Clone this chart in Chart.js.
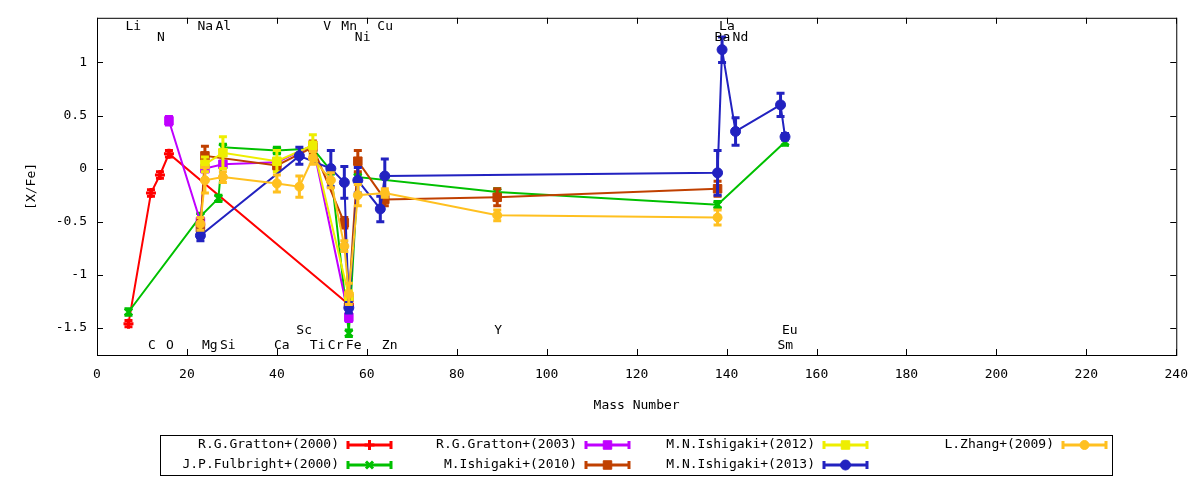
<!DOCTYPE html>
<html>
<head>
<meta charset="utf-8">
<script src="https://cdn.jsdelivr.net/npm/chart.js@4.4.1/dist/chart.umd.min.js"></script>
<style>
  html, body { margin: 0; background: #fff; }
  canvas { display: block; }
</style>
</head>
<body>
<canvas id="abundChart" width="1200" height="480"></canvas>
<script>
// Mass numbers used for each element
const elements = ['Li','C','N','O','Na','Mg','Al','Si','Ca','Sc','Ti','V','Cr','Mn','Fe','Ni','Cu','Zn','Y','Ba','La','Nd','Sm','Eu'];
const masses   = [7, 12, 14, 16, 23, 24, 27, 28, 40, 45, 48, 51, 52, 55, 56, 58, 63, 64, 89, 138, 139, 142, 152, 153];

// Element labels along top / bottom of the plot
const labelsTop1 = ['Li','Na','Al','V','Mn','Cu','La'];
const labelsTop2 = ['N','Ni','Ba','Nd'];
const labelsBot1 = ['Sc','Y','Eu'];
const labelsBot2 = ['C','O','Mg','Si','Ca','Ti','Cr','Fe','Zn','Sm'];

const xTicks = [0, 20, 40, 60, 80, 100, 120, 140, 160, 180, 200, 220, 240];
const yTicks = [-1.5, -1, -0.5, 0, 0.5, 1];

// R.G.Gratton+(2000)
const gratton00Elem = ['Li','C','N','O','Fe'];
const gratton00Val  = [-1.46, -0.23, -0.06, 0.14, -1.28];
const gratton00Err  = [0.03, 0.03, 0.03, 0.03, 0.03];

// J.P.Fulbright+(2000)
const fulbright00Elem = ['Li','Na','Al','Si','Ca','Ti','Cr','Fe','Ni','Y','Ba','Eu'];
const fulbright00Val  = [-1.35, -0.45, -0.28, 0.20, 0.17, 0.19, -0.02, -1.55, -0.08, -0.22, -0.34, 0.25];
const fulbright00Err  = [0.03, 0.03, 0.03, 0.03, 0.03, 0.03, 0.03, 0.03, 0.03, 0.03, 0.03, 0.03];

// R.G.Gratton+(2003)
const gratton03Elem = ['O','Na','Mg','Si','Ca','Ti','Fe'];
const gratton03Val  = [0.45, -0.50, 0.00, 0.04, 0.06, 0.22, -1.40];
const gratton03Err  = [0.04, 0.03, 0.03, 0.03, 0.03, 0.03, 0.04];

// M.Ishigaki+(2010)
const ishigaki10Elem = ['Na','Mg','Ca','Ti','Mn','Fe','Ni','Zn','Y','Ba'];
const ishigaki10Val  = [-0.56, 0.12, 0.03, 0.20, -0.51, -1.22, 0.07, -0.29, -0.27, -0.19];
const ishigaki10Err  = [0.08, 0.09, 0.04, 0.06, 0.05, 0.05, 0.10, 0.06, 0.08, 0.07];

// M.N.Ishigaki+(2012)
const ishigaki12Elem = ['Mg','Si','Ca','Ti','Fe'];
const ishigaki12Val  = [0.04, 0.15, 0.07, 0.22, -1.20];
const ishigaki12Err  = [0.07, 0.15, 0.10, 0.10, 0.05];

// M.N.Ishigaki+(2013)
const ishigaki13Elem = ['Na','Sc','Cr','Mn','Fe','Ni','Cu','Zn','Ba','La','Nd','Sm','Eu'];
const ishigaki13Val  = [-0.63, 0.12, 0.00, -0.13, -1.31, -0.11, -0.38, -0.07, -0.04, 1.12, 0.35, 0.60, 0.30];
const ishigaki13Err  = [0.05, 0.08, 0.17, 0.15, 0.05, 0.12, 0.12, 0.16, 0.21, 0.12, 0.13, 0.11, 0.03];

// L.Zhang+(2009)
const zhang09Elem = ['Na','Mg','Si','Ca','Sc','Ti','Cr','Mn','Fe','Ni','Zn','Y','Ba'];
const zhang09Val  = [-0.52, -0.11, -0.08, -0.14, -0.17, 0.10, -0.11, -0.73, -1.18, -0.25, -0.23, -0.44, -0.46];
const zhang09Err  = [0.06, 0.12, 0.05, 0.08, 0.10, 0.06, 0.07, 0.05, 0.10, 0.10, 0.04, 0.05, 0.07];

const massOf = el => masses[elements.indexOf(el)];
const toPoints = (els, vals) => els.map((el, i) => ({ x: massOf(el), y: vals[i] }));

const FONT = '"DejaVu Sans Mono", monospace';
Chart.defaults.font.family = FONT;
Chart.defaults.font.size = 13;
Chart.defaults.color = '#000';

const makeSet = (label, color, els, vals, errs, style, radius, order) => ({
    label: label,
    data: toPoints(els, vals),
    errors: errs,
    showLine: true,
    borderColor: color,
    backgroundColor: color,
    borderWidth: 2,
    pointStyle: style,
    pointRadius: radius,
    pointBorderWidth: style === 'cross' || style === 'crossRot' ? 3 : 1,
    pointBorderColor: color,
    pointBackgroundColor: color,
    order: order
});

const datasets = [
    makeSet('R.G.Gratton+(2000)', '#ff0000', gratton00Elem, gratton00Val, gratton00Err, 'cross', 5, 7),
    makeSet('J.P.Fulbright+(2000)', '#00c000', fulbright00Elem, fulbright00Val, fulbright00Err, 'crossRot', 5, 6),
    makeSet('R.G.Gratton+(2003)', '#c000ff', gratton03Elem, gratton03Val, gratton03Err, 'rect', 6, 5),
    makeSet('M.Ishigaki+(2010)', '#c04000', ishigaki10Elem, ishigaki10Val, ishigaki10Err, 'rect', 6, 4),
    makeSet('M.N.Ishigaki+(2012)', '#eeee00', ishigaki12Elem, ishigaki12Val, ishigaki12Err, 'rect', 6, 3),
    makeSet('M.N.Ishigaki+(2013)', '#2222c0', ishigaki13Elem, ishigaki13Val, ishigaki13Err, 'circle', 5, 2),
    makeSet('L.Zhang+(2009)', '#ffc020', zhang09Elem, zhang09Val, zhang09Err, 'circle', 4.5, 1)
];

// error bars, drawn just before each dataset so points sit on top
const errorBars = {
    id: 'errorBars',
    beforeDatasetDraw(chart, args) {
        const ds = chart.data.datasets[args.index];
        const { x, y } = chart.scales;
        const ctx = chart.ctx;
        ctx.save();
        ctx.strokeStyle = ds.borderColor;
        ctx.lineWidth = 3;
        ds.data.forEach((p, i) => {
            const e = ds.errors[i];
            const px = x.getPixelForValue(p.x);
            const top = y.getPixelForValue(p.y + e);
            const bot = y.getPixelForValue(p.y - e);
            ctx.beginPath();
            ctx.moveTo(px, top); ctx.lineTo(px, bot);
            ctx.moveTo(px - 4, top); ctx.lineTo(px + 4, top);
            ctx.moveTo(px - 4, bot); ctx.lineTo(px + 4, bot);
            ctx.stroke();
        });
        ctx.restore();
    }
};

// frame, inward ticks, element labels and key box
const gnuFrame = {
    id: 'gnuFrame',
    afterDraw(chart) {
        const { ctx, chartArea: a } = chart;
        const { x, y } = chart.scales;
        ctx.save();
        ctx.strokeStyle = '#000';
        ctx.lineWidth = 1;
        ctx.strokeRect(a.left + 0.5, a.top + 0.5, a.right - a.left, a.bottom - a.top);
        ctx.beginPath();
        xTicks.forEach(v => {
            const px = Math.round(x.getPixelForValue(v)) + 0.5;
            ctx.moveTo(px, a.bottom); ctx.lineTo(px, a.bottom - 6);
            ctx.moveTo(px, a.top); ctx.lineTo(px, a.top + 6);
        });
        yTicks.forEach(v => {
            const py = Math.round(y.getPixelForValue(v)) + 0.5;
            ctx.moveTo(a.left, py); ctx.lineTo(a.left + 6, py);
            ctx.moveTo(a.right, py); ctx.lineTo(a.right - 6, py);
        });
        ctx.stroke();

        // element names
        ctx.fillStyle = '#000';
        ctx.font = '13px ' + FONT;
        ctx.textAlign = 'left';
        ctx.textBaseline = 'middle';
        const rows = [[labelsTop1, 1.335], [labelsTop2, 1.235], [labelsBot1, -1.53], [labelsBot2, -1.67]];
        rows.forEach(([names, yv]) => {
            names.forEach(n => {
                ctx.fillText(n, x.getPixelForValue(massOf(n)) - 3, y.getPixelForValue(yv));
            });
        });

        // key
        ctx.strokeRect(160.5, 435.5, 952, 40);
        const textRight = [339, 577, 815, 1054];
        const rowY = [445, 465];
        datasets.forEach((ds, i) => {
            const col = Math.floor(i / 2), row = i % 2;
            const tx = textRight[col], ty = rowY[row];
            ctx.fillStyle = '#000';
            ctx.textAlign = 'right';
            ctx.fillText(ds.label, tx, ty);
            const x0 = tx + 9, x1 = tx + 52;
            ctx.strokeStyle = ds.borderColor;
            ctx.lineWidth = 3;
            ctx.beginPath();
            ctx.moveTo(x0, ty); ctx.lineTo(x1, ty);
            ctx.moveTo(x0, ty - 4); ctx.lineTo(x0, ty + 4);
            ctx.moveTo(x1, ty - 4); ctx.lineTo(x1, ty + 4);
            ctx.stroke();
            ctx.fillStyle = ds.borderColor;
            ctx.lineWidth = ds.pointBorderWidth;
            Chart.helpers.drawPoint(ctx, {
                pointStyle: ds.pointStyle,
                radius: ds.pointRadius,
                borderWidth: ds.pointBorderWidth,
                rotation: 0
            }, (x0 + x1) / 2, ty);
            ctx.strokeStyle = '#000';
            ctx.lineWidth = 1;
        });
        ctx.restore();
    }
};

new Chart(document.getElementById('abundChart'), {
    type: 'scatter',
    data: { datasets: datasets },
    options: {
        responsive: false,
        animation: false,
        layout: { padding: { left: 20, top: 17, right: 23, bottom: 63 } },
        plugins: { legend: { display: false }, tooltip: { enabled: false } },
        elements: { line: { tension: 0 } },
        scales: {
            x: {
                type: 'linear', min: 0, max: 240,
                ticks: { stepSize: 20, padding: 12 },
                grid: { display: false, drawTicks: false },
                border: { display: false },
                title: { display: true, text: 'Mass Number', padding: { top: 4, bottom: 4 } },
                afterFit(s) { s.height = 62; }
            },
            y: {
                type: 'linear', min: -1.755, max: 1.42,
                ticks: {
                    stepSize: 0.5, includeBounds: false, padding: 10,
                    callback: v => String(Number(v.toFixed(2)))
                },
                grid: { display: false, drawTicks: false },
                border: { display: false },
                title: { display: true, text: '[X/Fe]', padding: { top: 4, bottom: 4 } },
                afterFit(s) { s.width = 77; }
            }
        }
    },
    plugins: [errorBars, gnuFrame]
});
</script>
</body>
</html>
